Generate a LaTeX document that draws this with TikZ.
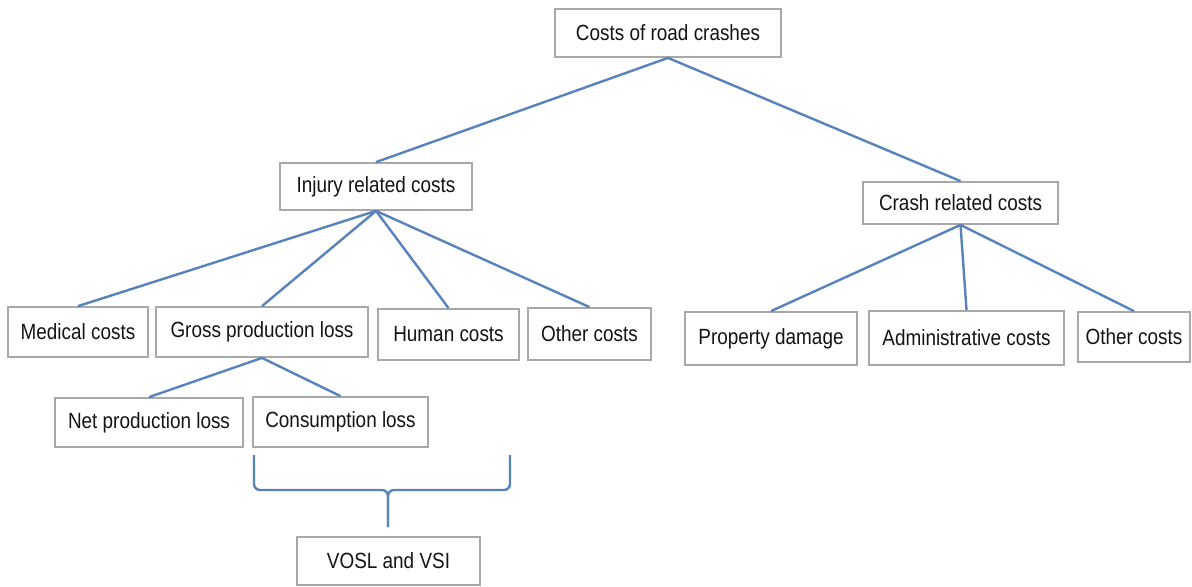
\documentclass[tikz,border=0pt]{standalone}
\usepackage{fontspec}
\newfontfamily\diagfont[FakeStretch=0.86]{Liberation Sans}
\usetikzlibrary{shadows}
\definecolor{linkblue}{HTML}{5783BC}
\definecolor{boxgray}{HTML}{A8A8A8}
\definecolor{txt}{HTML}{141414}
\tikzset{
  box/.style={draw=boxgray, line width=0.9pt, fill=white, inner sep=0pt,
    font=\diagfont\fontsize{11pt}{12pt}\selectfont, text=txt,
    drop shadow={shadow xshift=0.6pt, shadow yshift=-0.6pt, opacity=0.25}},
  link/.style={draw=linkblue, line width=1.2pt}
}
\newcommand\bx[6]{%
  \node[box, minimum width={(#4-#2)*0.5pt}, minimum height={(#5-#3)*0.5pt}]
    (#1) at ({(#2+#4)/2},{(#3+#5)/2}) {#6};}
\begin{document}
\begin{tikzpicture}[x=0.5pt,y=-0.5pt]
\useasboundingbox (0,0) rectangle (1192,586);
\bx{root}{555}{9}{781}{57}{Costs of road crashes}
\bx{injury}{280}{163}{472}{210}{Injury related costs}
\bx{crash}{863}{182}{1058}{224}{Crash related costs}
\bx{medical}{8}{307}{148}{357}{Medical costs}
\bx{gross}{156}{307}{368}{357}{Gross production loss}
\bx{human}{378}{309}{519}{360}{Human costs}
\bx{otherI}{528}{308}{651}{360}{Other costs}
\bx{property}{685}{312}{857}{365}{Property damage}
\bx{admin}{869}{311}{1064}{365}{Administrative costs}
\bx{otherC}{1078}{312}{1190}{362}{Other costs}
\bx{net}{55}{398}{243}{447}{Net production loss}
\bx{consumption}{253}{397}{428}{447}{Consumption loss}
\bx{vosl}{297}{537}{480}{585}{VOSL and VSI}

\draw[link] (root.south) -- (injury.north);
\draw[link] (root.south) -- (crash.north);
\foreach \c in {medical,gross,human,otherI}
  \draw[link] (injury.south) -- (\c.north);
\foreach \c in {property,admin,otherC}
  \draw[link] (crash.south) -- (\c.north);
\draw[link] (gross.south) -- (net.north);
\draw[link] (gross.south) -- (consumption.north);

\coordinate (bl) at (254,455);
\coordinate (br) at (510,455);
\coordinate (bm) at (388,490);
\coordinate (bs) at (388,527);
\draw[link, rounded corners=3pt] (bl) -- (bl |- bm) -- (bm) -- (bs);
\draw[link, rounded corners=3pt] (br) -- (br |- bm) -- (bm) -- (bs);
\end{tikzpicture}
\end{document}
